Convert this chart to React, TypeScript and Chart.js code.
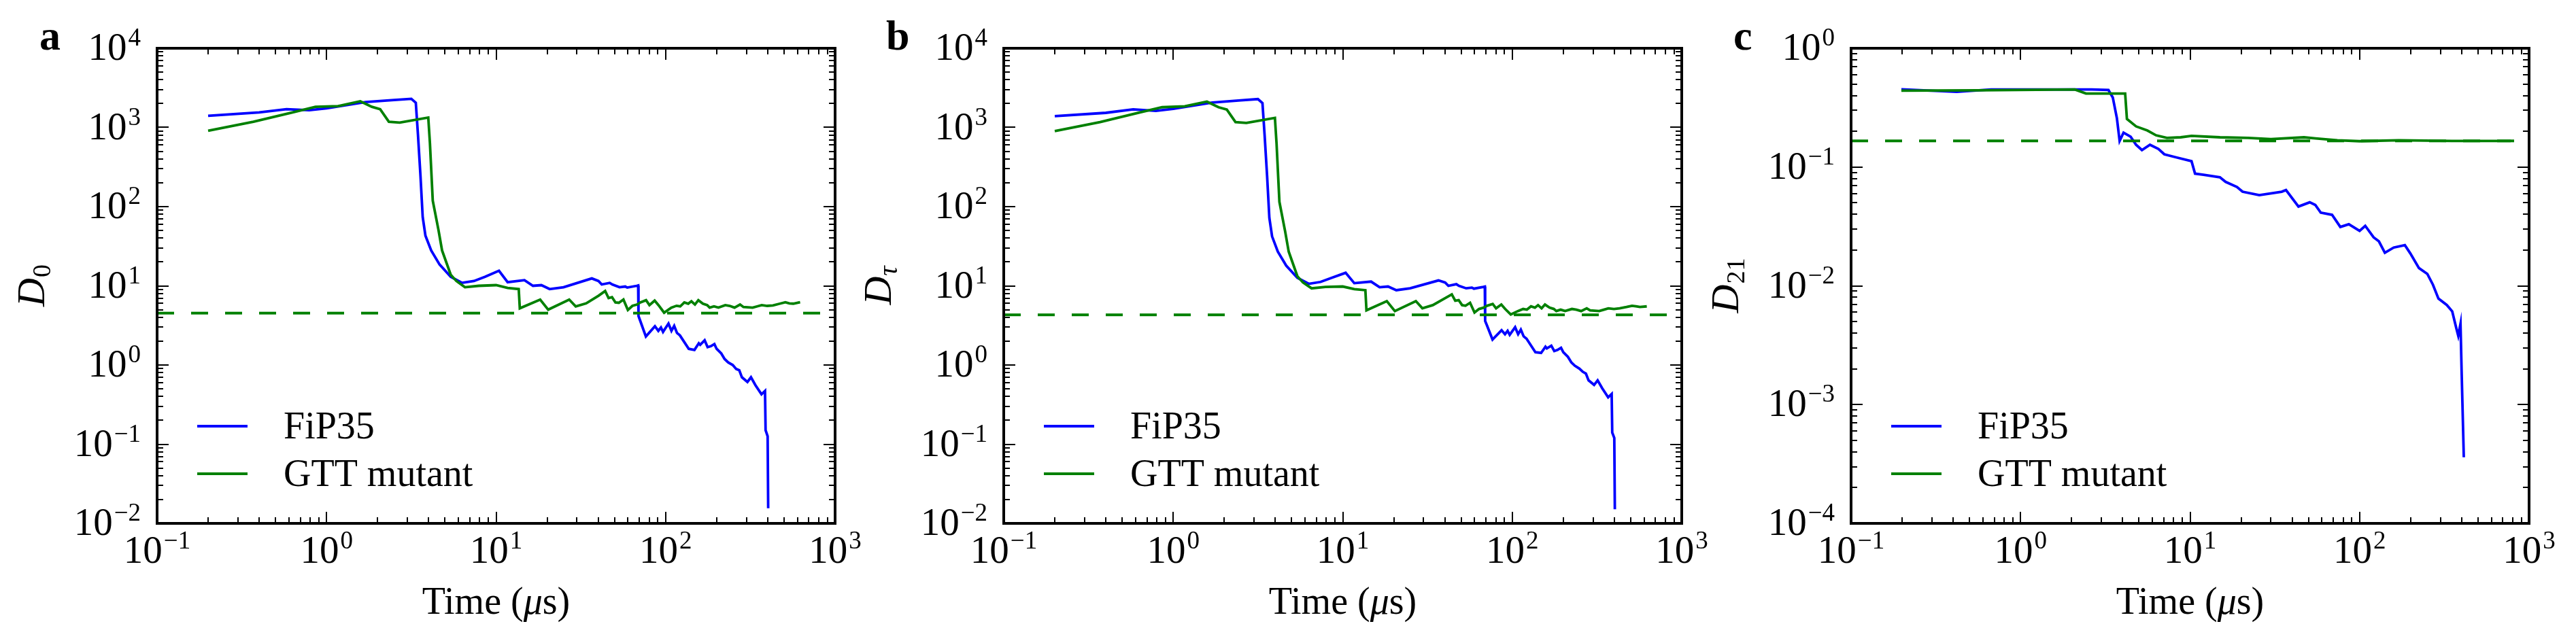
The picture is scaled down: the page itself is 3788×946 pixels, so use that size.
import { useEffect, useRef } from 'react'
import { Chart, LineController, LineElement, PointElement, LogarithmicScale } from 'chart.js'

Chart.register(LineController, LineElement, PointElement, LogarithmicScale)

const BLUE = '#0000ff'
const GREEN = '#008000'
const SERIF = '"Liberation Serif", "Times New Roman", serif'

// axis decades (tick labels are 10^exp)
const X_TICK_EXP = [-1, 0, 1, 2, 3]
const Y_TICK_EXP_AB = [-2, -1, 0, 1, 2, 3, 4]
const Y_TICK_EXP_C = [-4, -3, -2, -1, 0]
const SERIES_LABELS = ['FiP35', 'GTT mutant']
const PANEL_LETTERS = ['a', 'b', 'c']
const Y_SUBSCRIPTS = ['0', 'τ', '21']

// panels a and b share the same time grid
const AB_FIP_T = [
  0.2, 0.4, 0.58, 0.79, 1.0, 1.7, 2.5, 3.16, 3.36, 3.46, 3.58, 3.69, 3.83, 4.14, 4.64, 5.4, 6.3, 7.4, 8.6, 10.4,
  11.7, 14.7, 16.5, 18.5, 20.7, 25, 36.7,
  40.2, 42, 46.8, 48.5, 53.5, 57.8, 59.4, 67.5, 68.9, 69.2, 70.8, 76.5, 86.5, 90.6, 93.9, 96.6, 104, 108.3, 112.4,
  116.8, 121.4, 137, 148, 157, 160, 170, 177, 185, 194, 200, 213, 223, 234, 249, 261, 272, 282, 304, 319, 339, 368,
  386, 389, 400, 403,
]
const A_FIP_D0 = [
  1400, 1550, 1700, 1650, 1740, 2090, 2220, 2300, 2050, 810, 245, 74, 43, 28, 18.6, 13, 10.9, 11.5, 13, 15.5,
  11.1, 11.8, 10, 10.2, 9.1, 9.6, 12.4,
  11.5, 10.4, 10.9, 10.4, 9.6, 9.8, 9.5, 10.0, 10.1, 4.15, 3.63, 2.29, 3.09, 2.7, 2.98, 2.62, 3.34, 2.7, 3.12,
  2.54, 2.37, 1.6, 1.55, 1.88, 1.8, 2.05, 1.68, 1.73, 1.84, 1.6, 1.4, 1.19, 1.08, 1.0, 0.89, 0.86, 0.7, 0.61, 0.7, 0.556, 0.427,
  0.47, 0.15, 0.126, 0.0155,
]
const B_FIP_DTAU = [
  1390, 1530, 1690, 1620, 1720, 2060, 2200, 2280, 2030, 800, 240, 72, 42, 27, 18, 12.6, 10.6, 11.2, 12.6, 14.6,
  10.8, 11.3, 9.6, 9.8, 8.8, 9.3, 11.7,
  11.0, 10.0, 10.5, 10.0, 9.3, 9.5, 9.2, 9.7, 9.8, 3.6, 3.2, 2.1, 2.75, 2.45, 2.7, 2.4, 3.0, 2.45, 2.8,
  2.3, 2.15, 1.45, 1.42, 1.7, 1.62, 1.75, 1.5, 1.55, 1.65, 1.45, 1.27, 1.08, 0.98, 0.9, 0.82, 0.78, 0.64, 0.56, 0.64, 0.51, 0.39,
  0.43, 0.14, 0.12, 0.0151,
]

const AB_GTT_T = [
  0.2, 0.37, 0.63, 0.86, 1.17, 1.58, 1.85, 2.07, 2.33, 2.7, 3.98, 4.07, 4.23, 4.57, 4.8, 5.4, 5.83, 6.55, 7.9, 10,
  11.7, 13.6, 13.8, 18.2, 20.3, 27, 29.5, 34,
  40.2, 44, 46.1, 48.3, 50.6, 53, 56.4, 59.9, 63.7, 67.8, 71, 76.7, 80.3, 86.2, 90.8, 98, 108, 116, 122, 129,
  136, 142, 149, 156, 166, 176, 182, 193, 205, 225, 239, 255, 275, 288, 326, 347, 369, 398, 430, 472, 509, 537, 567, 622,
]
const A_GTT_D0 = [
  910, 1180, 1550, 1820, 1860, 2140, 1820, 1700, 1180, 1150, 1335, 635, 119, 51, 28, 13.8, 11.5, 9.6, 10, 10.2,
  9.4, 9.1, 5.2, 6.7, 5.0, 6.7, 5.5, 6.0,
  7.5, 8.6, 7.0, 7.2, 6.17, 6.1, 6.7, 4.95, 5.58, 5.8, 6.17, 6.58, 5.7, 6.5, 5.7, 4.58, 5.3, 5.6, 5.5, 6.17,
  5.95, 6.37, 5.8, 6.58, 5.95, 5.7, 5.3, 5.5, 5.3, 5.7, 5.58, 5.3, 5.8, 5.4, 5.3, 5.5, 5.7, 5.58, 5.65, 5.95, 6.2, 6.0, 5.95, 6.2,
]
const B_GTT_DTAU = [
  900, 1170, 1540, 1800, 1850, 2120, 1800, 1680, 1170, 1140, 1320, 620, 115, 49, 27, 13.2, 11.0, 9.3, 9.7, 9.8,
  9.1, 8.8, 4.9, 6.4, 4.8, 6.4, 5.2, 5.7,
  7.0, 7.8, 6.5, 6.6, 5.7, 5.6, 6.1, 4.6, 5.1, 5.3, 5.6, 5.9, 5.2, 5.8, 5.1, 4.35, 4.8, 5.1, 5.0, 5.5,
  5.3, 5.7, 5.2, 5.8, 5.3, 5.1, 4.8, 5.0, 4.8, 5.1, 5.0, 4.8, 5.2, 4.9, 4.8, 5.0, 5.2, 5.1, 5.2, 5.4, 5.6, 5.5, 5.4, 5.5,
]

const C_FIP_T = [
  0.198, 0.42, 0.67, 1.23, 2.63, 3.3, 3.5, 3.7, 3.84, 4.05, 4.46, 4.8, 5.2, 5.8, 6.5, 7.05, 8.2, 10.2, 10.7, 12,
  15, 16.2, 18.9, 20.4, 25.6, 34.7, 36.8, 43.6, 50.8, 54.8, 59, 68.8, 77, 86.4, 100, 108, 121, 130, 141, 159,
  185, 199, 224, 251, 271, 292, 327, 352, 372, 382, 394, 400, 412,
]
const C_FIP_D21 = [
  0.451, 0.43, 0.45, 0.45, 0.45, 0.445, 0.385, 0.258, 0.166, 0.195, 0.18, 0.154, 0.139, 0.154, 0.142, 0.128, 0.121, 0.112, 0.088, 0.086,
  0.082, 0.075, 0.068, 0.062, 0.058, 0.062, 0.064, 0.0465, 0.0505, 0.048, 0.0413, 0.0396, 0.0313, 0.033, 0.029, 0.032, 0.0256, 0.0237, 0.019, 0.021,
  0.022, 0.0188, 0.0141, 0.0126, 0.0102, 0.0078, 0.0069, 0.0061, 0.0044, 0.0038, 0.0048, 0.0019, 0.00036,
]
const C_GTT_T = [0.198, 0.57, 2.09, 2.43, 4.14, 4.24, 4.8, 5.6, 6.3, 7.3, 8.8, 10.2, 15, 22, 30, 47, 55, 74, 100, 170, 350, 580, 780]
const C_GTT_D21 = [0.44, 0.443, 0.45, 0.416, 0.416, 0.254, 0.22, 0.203, 0.185, 0.176, 0.178, 0.183, 0.178, 0.176, 0.172, 0.178, 0.174, 0.168, 0.165, 0.168, 0.166, 0.166, 0.166]

// dashed reference level per panel
const DASH_LEVELS = [4.52, 4.3, 0.166]

// layout (px)
const PLOT_LEFTS = [231, 1476, 2722]
const PLOT_W = 997
const PLOT_TOP = 71
const PLOT_BOTTOM = 770
const BOX_W = 1290
const FIG_H = 946

const pts = (t: number[], d: number[]) => t.map((x, i) => ({ x, y: d[i] }))

function minorValues(lo: number, hi: number) {
  const v: number[] = []
  for (let e = lo; e < hi; e++) for (let m = 2; m <= 9; m++) v.push(m * Math.pow(10, e))
  return v
}

// "10" with a raised exponent
function drawPow(ctx: CanvasRenderingContext2D, x: number, baseline: number, exp: number, anchor: 'right' | 'center') {
  const es = exp < 0 ? '\u2212' + -exp : String(exp)
  ctx.font = `57px ${SERIF}`
  const w10 = ctx.measureText('10').width
  ctx.font = `37px ${SERIF}`
  const wE = ctx.measureText(es).width
  const total = w10 + 2 + wE
  const x0 = anchor === 'right' ? x - total : x - total / 2
  ctx.font = `57px ${SERIF}`
  ctx.fillText('10', x0, baseline)
  ctx.font = `37px ${SERIF}`
  ctx.fillText(es, x0 + w10 + 2, baseline - 21)
}

function makeDecor(idx: number, yExp: number[]) {
  return {
    id: 'decor' + idx,
    afterDatasetsDraw(chart: any) {
      const { ctx, chartArea: a, scales } = chart
      const xs = scales.x
      const ys = scales.y
      ctx.save()
      ctx.strokeStyle = '#000'
      ctx.fillStyle = '#000'
      ctx.lineWidth = 2
      ctx.beginPath()
      const xMajor = X_TICK_EXP.map(e => Math.pow(10, e))
      const yMajor = yExp.map(e => Math.pow(10, e))
      const xTicks = [...xMajor.map(v => [v, 17]), ...minorValues(X_TICK_EXP[0], X_TICK_EXP[X_TICK_EXP.length - 1]).map(v => [v, 9])]
      const yTicks = [...yMajor.map(v => [v, 17]), ...minorValues(yExp[0], yExp[yExp.length - 1]).map(v => [v, 9])]
      for (const [v, len] of xTicks) {
        const px = Math.round(xs.getPixelForValue(v))
        ctx.moveTo(px, a.bottom); ctx.lineTo(px, a.bottom - len)
        ctx.moveTo(px, a.top); ctx.lineTo(px, a.top + len)
      }
      for (const [v, len] of yTicks) {
        const py = Math.round(ys.getPixelForValue(v))
        ctx.moveTo(a.left, py); ctx.lineTo(a.left + len, py)
        ctx.moveTo(a.right, py); ctx.lineTo(a.right - len, py)
      }
      ctx.stroke()
      ctx.lineWidth = 4
      ctx.strokeRect(a.left, a.top, a.right - a.left, a.bottom - a.top)

      // tick labels
      ctx.textAlign = 'left'
      ctx.textBaseline = 'alphabetic'
      for (const e of X_TICK_EXP) drawPow(ctx, xs.getPixelForValue(Math.pow(10, e)), a.bottom + 58, e, 'center')
      for (const e of yExp) drawPow(ctx, a.left - 24, ys.getPixelForValue(Math.pow(10, e)) + 17, e, 'right')

      // x title: Time (μs)
      const cx = (a.left + a.right) / 2
      const by = a.bottom + 133
      ctx.font = `56px ${SERIF}`
      const p1 = 'Time ('
      const w1 = ctx.measureText(p1).width
      const w3 = ctx.measureText('s)').width
      ctx.font = `italic 56px ${SERIF}`
      const w2 = ctx.measureText('μ').width
      let tx = cx - (w1 + w2 + w3) / 2
      ctx.font = `56px ${SERIF}`
      ctx.fillText(p1, tx, by)
      tx += w1
      ctx.font = `italic 56px ${SERIF}`
      ctx.fillText('μ', tx, by)
      tx += w2
      ctx.font = `56px ${SERIF}`
      ctx.fillText('s)', tx, by)

      // y title: D with subscript
      const sub = Y_SUBSCRIPTS[idx]
      ctx.save()
      ctx.translate(a.left - 166, (a.top + a.bottom) / 2)
      ctx.rotate(-Math.PI / 2)
      ctx.font = `italic 58px ${SERIF}`
      const wD = ctx.measureText('D').width
      const subFont = sub === 'τ' ? `italic 40px ${SERIF}` : `38px ${SERIF}`
      ctx.font = subFont
      const wS = ctx.measureText(sub).width
      const sx = -(wD + wS) / 2
      ctx.font = `italic 58px ${SERIF}`
      ctx.fillText('D', sx, 0)
      ctx.font = subFont
      ctx.fillText(sub, sx + wD + 1, 9)
      ctx.restore()

      // panel letter
      ctx.font = `bold 62px ${SERIF}`
      ctx.fillText(PANEL_LETTERS[idx], a.left - 173, a.top + 2)

      // legend
      const colors = [BLUE, GREEN]
      SERIES_LABELS.forEach((label, i) => {
        const ly = a.top + 556 + i * 70
        ctx.strokeStyle = colors[i]
        ctx.lineWidth = 4
        ctx.beginPath()
        ctx.moveTo(a.left + 59, ly)
        ctx.lineTo(a.left + 133, ly)
        ctx.stroke()
        ctx.fillStyle = '#000'
        ctx.font = `56px ${SERIF}`
        ctx.fillText(label, a.left + 186, ly + 18)
      })
      ctx.restore()
    },
  }
}

type Pt = { x: number; y: number }
type PanelProps = { idx: number; yExp: number[]; fip: Pt[]; gtt: Pt[]; dash: number }

function Panel({ idx, yExp, fip, gtt, dash }: PanelProps) {
  const canvasRef = useRef<HTMLCanvasElement>(null)

  useEffect(() => {
    if (!canvasRef.current) return
    const xMin = Math.pow(10, X_TICK_EXP[0])
    const xMax = Math.pow(10, X_TICK_EXP[X_TICK_EXP.length - 1])
    const chart = new Chart(canvasRef.current, {
      type: 'line',
      data: {
        datasets: [
          { label: SERIES_LABELS[0], data: fip, borderColor: BLUE, borderWidth: 3.8, order: 3 },
          { label: SERIES_LABELS[1], data: gtt, borderColor: GREEN, borderWidth: 3.8, order: 2 },
          {
            label: 'level',
            data: [{ x: xMin, y: dash }, { x: xMax, y: dash }],
            borderColor: GREEN,
            borderWidth: 4,
            borderDash: [25, 25],
            order: 1,
          },
        ],
      },
      options: {
        animation: false,
        responsive: true,
        maintainAspectRatio: false,
        devicePixelRatio: 1,
        events: [],
        layout: {
          padding: {
            left: PLOT_LEFTS[0],
            right: BOX_W - PLOT_LEFTS[0] - PLOT_W,
            top: PLOT_TOP,
            bottom: FIG_H - PLOT_BOTTOM,
          },
        },
        elements: { point: { radius: 0 }, line: { tension: 0, fill: false } },
        scales: {
          x: { type: 'logarithmic', min: xMin, max: xMax, display: false },
          y: { type: 'logarithmic', min: Math.pow(10, yExp[0]), max: Math.pow(10, yExp[yExp.length - 1]), display: false },
        },
      },
      plugins: [makeDecor(idx, yExp)],
    })
    return () => chart.destroy()
  }, [idx, yExp, fip, gtt, dash])

  return (
    <div style={{ position: 'absolute', top: 0, left: PLOT_LEFTS[idx] - PLOT_LEFTS[0], width: BOX_W, height: FIG_H }}>
      <canvas ref={canvasRef} />
    </div>
  )
}

const FIP_A = pts(AB_FIP_T, A_FIP_D0)
const GTT_A = pts(AB_GTT_T, A_GTT_D0)
const FIP_B = pts(AB_FIP_T, B_FIP_DTAU)
const GTT_B = pts(AB_GTT_T, B_GTT_DTAU)
const FIP_C = pts(C_FIP_T, C_FIP_D21)
const GTT_C = pts(C_GTT_T, C_GTT_D21)

export default function App() {
  return (
    <div style={{ position: 'absolute', left: 0, top: 0, width: 3788, height: FIG_H, background: '#fff' }}>
      <Panel idx={0} yExp={Y_TICK_EXP_AB} fip={FIP_A} gtt={GTT_A} dash={DASH_LEVELS[0]} />
      <Panel idx={1} yExp={Y_TICK_EXP_AB} fip={FIP_B} gtt={GTT_B} dash={DASH_LEVELS[1]} />
      <Panel idx={2} yExp={Y_TICK_EXP_C} fip={FIP_C} gtt={GTT_C} dash={DASH_LEVELS[2]} />
    </div>
  )
}
